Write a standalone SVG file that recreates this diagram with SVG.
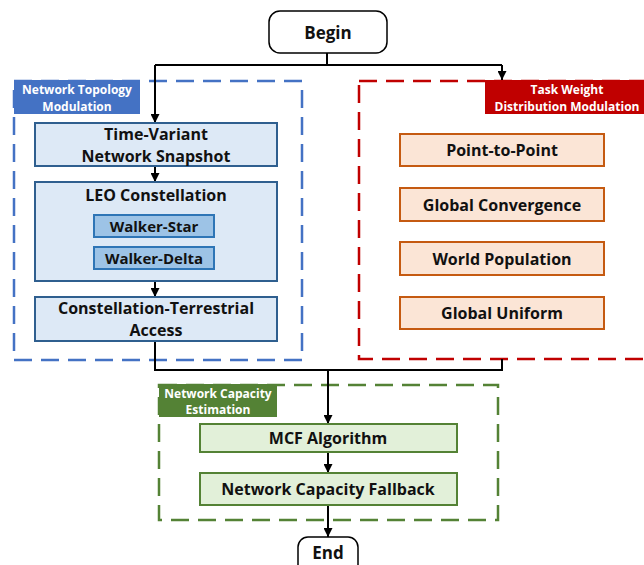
<svg xmlns="http://www.w3.org/2000/svg" width="644" height="565" viewBox="0 0 644 565">
<defs>
<marker id="ah" viewBox="0 0 10 10" refX="10" refY="5" markerWidth="9" markerHeight="9" markerUnits="userSpaceOnUse" orient="auto"><path d="M0,0 L10,5 L0,10 Z" fill="#000"/></marker>
<style>
text{font-family:"Open Sans","Liberation Sans",sans-serif;font-weight:bold;text-anchor:middle;dominant-baseline:central}
.t{font-size:16px;fill:#111}
.lbl{font-size:12px;fill:#fff}
.term{fill:#fff;stroke:#000;stroke-width:1.5}
.blue{fill:#dde9f6;stroke:#2f5f8f;stroke-width:2}
.sub{fill:#9dc3e6;stroke:#2e75b6;stroke-width:2}
.orange{fill:#fbe5d6;stroke:#c55a11;stroke-width:2}
.green{fill:#e2f0d9;stroke:#548235;stroke-width:2}
.conn{fill:none;stroke:#000;stroke-width:2}
.dash{fill:none;stroke-width:2.5;stroke-dasharray:18 9}
</style>
</defs>
<g id="group-topology">
<rect class="dash" x="14" y="81" width="288" height="279" stroke="#4472c4"/>
<rect x="14" y="80" width="126" height="34" fill="#4472c4"/>
<text class="lbl" x="77" y="89">Network Topology</text>
<text class="lbl" x="77" y="106">Modulation</text>
</g>
<g id="group-task">
<rect class="dash" x="359" y="81" width="300" height="278" stroke="#c00000"/>
<rect x="485" y="80" width="159" height="34" fill="#c00000"/>
<text class="lbl" x="567" y="89">Task Weight</text>
<text class="lbl" x="567" y="106">Distribution Modulation</text>
</g>
<g id="group-capacity">
<rect class="dash" x="159" y="385" width="339" height="135" stroke="#548235"/>
<rect x="159" y="384" width="118" height="33" fill="#548235"/>
<text class="lbl" x="218" y="393">Network Capacity</text>
<text class="lbl" x="218" y="409">Estimation</text>
</g>
<g id="connectors">
<path class="conn" d="M327,53 V65"/>
<path class="conn" d="M155,65 H502"/>
<path class="conn" d="M155,65 V123" marker-end="url(#ah)"/>
<path class="conn" d="M502,65 V80" marker-end="url(#ah)"/>
<path class="conn" d="M155,166 V182" marker-end="url(#ah)"/>
<path class="conn" d="M155,281 V297" marker-end="url(#ah)"/>
<path class="conn" d="M155,341 V370 H502 V359"/>
<path class="conn" d="M328,370 V424" marker-end="url(#ah)"/>
<path class="conn" d="M328,452 V473" marker-end="url(#ah)"/>
<path class="conn" d="M328,505 V537" marker-end="url(#ah)"/>
</g>
<g id="begin">
<rect class="term" x="269" y="11" width="118" height="42" rx="11"/>
<text class="t" x="328" y="32" style="font-size:17px">Begin</text>
</g>
<g id="time-variant">
<rect class="blue" x="35" y="123" width="242" height="43"/>
<text class="t" x="156" y="134">Time-Variant</text>
<text class="t" x="156" y="156">Network Snapshot</text>
</g>
<g id="leo">
<rect class="blue" x="35" y="182" width="242" height="99"/>
<text class="t" x="156" y="195">LEO Constellation</text>
</g>
<g id="walker-star">
<rect class="sub" x="94" y="215" width="120" height="22"/>
<text class="t" x="154" y="226" style="font-size:15px">Walker-Star</text>
</g>
<g id="walker-delta">
<rect class="sub" x="94" y="247" width="120" height="22"/>
<text class="t" x="154" y="258" style="font-size:15px">Walker-Delta</text>
</g>
<g id="access">
<rect class="blue" x="35" y="297" width="242" height="44"/>
<text class="t" x="156" y="308">Constellation-Terrestrial</text>
<text class="t" x="156" y="330">Access</text>
</g>
<g id="p2p">
<rect class="orange" x="400" y="134" width="204" height="32"/>
<text class="t" x="502" y="150">Point-to-Point</text>
</g>
<g id="global-convergence">
<rect class="orange" x="400" y="188" width="204" height="33"/>
<text class="t" x="502" y="204.5">Global Convergence</text>
</g>
<g id="world-population">
<rect class="orange" x="400" y="242" width="204" height="33"/>
<text class="t" x="502" y="258.5">World Population</text>
</g>
<g id="global-uniform">
<rect class="orange" x="400" y="297" width="204" height="32"/>
<text class="t" x="502" y="313">Global Uniform</text>
</g>
<g id="mcf">
<rect class="green" x="200" y="424" width="257" height="28"/>
<text class="t" x="328" y="438">MCF Algorithm</text>
</g>
<g id="fallback">
<rect class="green" x="200" y="473" width="257" height="32"/>
<text class="t" x="328" y="489">Network Capacity Fallback</text>
</g>
<g id="end">
<rect class="term" x="298" y="537" width="60" height="40" rx="10"/>
<text class="t" x="328" y="552" style="font-size:17px">End</text>
</g>
</svg>
